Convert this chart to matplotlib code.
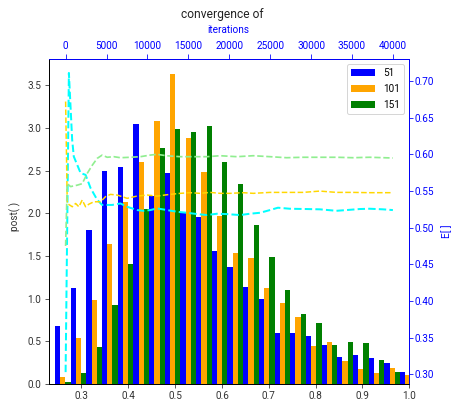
import numpy as np
import matplotlib
matplotlib.use("Agg")
import matplotlib.pyplot as plt
from matplotlib.ticker import MultipleLocator

plt.rcParams['font.family'] = ['Roboto', 'DejaVu Sans']
plt.rcParams['font.size'] = 10

# histogram bins (posterior samples)
bin_lo = 0.2434
bin_w = 0.03349
n_bins = 23
edges = bin_lo + bin_w * np.arange(n_bins + 1)
centers = 0.5 * (edges[:-1] + edges[1:])

labels = ['51', '101', '151']
h51 = [0.675, 1.13, 1.80, 2.49, 2.54, 3.05, 2.20, 2.47, 2.005, 1.95, 1.555, 1.37,
       1.14, 1.00, 0.60, 0.60, 0.56, 0.46, 0.32, 0.335, 0.30, 0.25, 0.145]
h101 = [0.08, 0.537, 0.98, 1.64, 2.13, 2.60, 3.08, 3.63, 2.88, 2.485, 1.97, 1.53,
        1.47, 1.13, 0.945, 0.79, 0.45, 0.487, 0.275, 0.18, 0.123, 0.19, 0.11]
h151 = [0.02, 0.127, 0.43, 0.93, 1.41, 2.05, 2.76, 2.99, 2.95, 3.02, 2.60, 2.345,
        1.86, 1.485, 1.10, 0.825, 0.72, 0.46, 0.487, 0.475, 0.285, 0.145, 0.12]

# running means vs iterations
it_51 = [0, 400, 800, 1000, 1830, 2440, 3050, 3860, 4470, 5690, 6700, 7520, 8740,
         9500, 10360, 11170, 12390, 13610, 14830, 16050, 17270, 18490, 19700,
         21320, 22540, 23760, 24980, 25950, 27410, 29450, 31070, 33100, 34320,
         35940, 37160, 38780, 40000]
e_51 = [0.303, 0.711, 0.620, 0.597, 0.5745, 0.572, 0.554, 0.538, 0.531, 0.531,
        0.533, 0.5285, 0.524, 0.523, 0.524, 0.5263, 0.524, 0.5217, 0.5203, 0.5186,
        0.5172, 0.519, 0.5185, 0.5172, 0.519, 0.5203, 0.524, 0.5272, 0.5258,
        0.5254, 0.525, 0.523, 0.524, 0.5254, 0.5258, 0.525, 0.524]

it_101 = [0, 200, 820, 1220, 1620, 2030, 2440, 2840, 3450, 4260, 4870, 5480, 6300,
          7520, 8740, 9950, 11170, 12390, 14010, 15230, 16450, 17670, 18890, 20100,
          21720, 22940, 24980, 27010, 29040, 31070, 33100, 35130, 37160, 40000]
e_101 = [0.672, 0.533, 0.5285, 0.533, 0.5285, 0.5377, 0.5285, 0.532, 0.5353, 0.5353,
         0.5422, 0.5454, 0.5445, 0.540, 0.5431, 0.5445, 0.543, 0.5449, 0.5468,
         0.5477, 0.5468, 0.5481, 0.5468, 0.5468, 0.5477, 0.5468, 0.5481, 0.5481,
         0.5481, 0.5499, 0.5481, 0.5481, 0.5477, 0.5477]

it_151 = [0, 200, 610, 1430, 2030, 2640, 3250, 3860, 4470, 5080, 5890, 6700, 7920,
          9140, 10360, 11170, 12390, 14010, 15630, 17270, 18890, 20920, 22940,
          24980, 27010, 29040, 31070, 33100, 35130, 37160, 40000]
e_151 = [0.475, 0.560, 0.556, 0.558, 0.560, 0.574, 0.585, 0.5945, 0.599, 0.596,
         0.5968, 0.5954, 0.596, 0.5968, 0.599, 0.600, 0.598, 0.5968, 0.5968, 0.5968,
         0.5981, 0.5968, 0.5981, 0.5968, 0.5954, 0.596, 0.596, 0.596, 0.5954,
         0.596, 0.595]

fig = plt.figure(figsize=(456 / 72, 402 / 72), dpi=72)
ax = fig.add_axes([0.108, 0.0448, 0.7895, 0.8084])

ax.hist([centers] * 3, bins=edges, weights=[h51, h101, h151], rwidth=1.0,
        color=['blue', 'orange', 'green'], label=labels)
ax.set_xlim(0.2312, 1.0)
ax.set_ylim(0, 3.806)
ax.xaxis.set_major_locator(MultipleLocator(0.1))
ax.yaxis.set_major_locator(MultipleLocator(0.5))
ax.tick_params(axis='x', colors='#333333', length=3.5, pad=3.5)
ax.tick_params(axis='y', colors='#333333', length=4, pad=4)
ax.legend(loc='upper right', handlelength=2.4, labelspacing=0.6)

axr = ax.twinx()
axt = axr.twiny()
axt.plot(it_51, e_51, '--', color='cyan', lw=2)
axt.plot(it_101, e_101, '--', color='gold', lw=1.5)
axt.plot(it_151, e_151, '--', color='lightgreen', lw=1.7)
axt.set_xlim(-2000, 42000)
axr.set_ylim(0.2868, 0.730)
axt.xaxis.set_major_locator(MultipleLocator(5000))
axr.yaxis.set_major_locator(MultipleLocator(0.05))
axr.tick_params(axis='y', colors='blue', length=4, pad=1.5)
axt.tick_params(axis='x', colors='blue', length=5, pad=3.5)
for a in (axr, axt):
    a.spines['right'].set_color('blue')
    a.spines['top'].set_color('blue')

fig.text(0.488, 0.965, 'convergence of', ha='center', va='center',
         fontsize=12, color='#222222')
fig.text(0.5015, 0.9254, 'iterations', ha='center', va='center', color='blue')
fig.text(0.0329, 0.4627, 'post( )', ha='center', va='center', rotation=90,
         color='#333333')
fig.text(0.9796, 0.4254, 'E[ ]', ha='center', va='center', rotation=90,
         color='blue')

fig.savefig('out.png', dpi=72)
